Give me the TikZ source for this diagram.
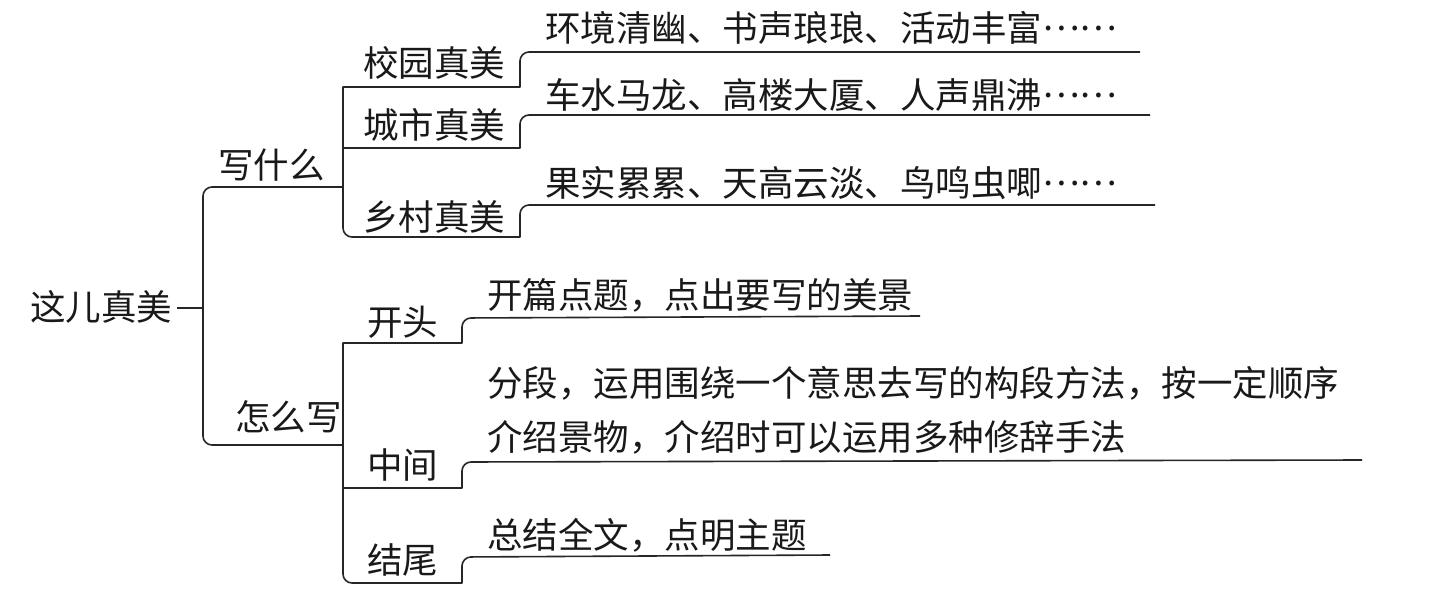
\documentclass[tikz,border=0pt]{standalone}
\usepackage{fontspec}
\newfontfamily\cjk{Noto Sans CJK SC}
\newcommand{\dotsmid}{\raisebox{0.3em}{……}}
\begin{document}
\begin{tikzpicture}[x=1pt,y=-1pt,
  lbl/.style={font=\cjk\fontsize{35.5}{54}\selectfont, inner sep=0pt, anchor=west, text=black!90, align=left},
  conn/.style={line width=1.6pt, draw=black!85, line join=round}]
\useasboundingbox[fill=white] (0,0) rectangle (1432,600);
% nodes
\node[lbl] (root) at (30,307) {这儿真美};
\node[lbl] (w1) at (218,165) {写什么};
\node[lbl] (w2) at (235,417) {怎么写};
\node[lbl] (a1) at (363,63) {校园真美};
\node[lbl] (a2) at (363,125) {城市真美};
\node[lbl] (a3) at (363,217) {乡村真美};
\node[lbl] (b1) at (367,322) {开头};
\node[lbl] (b2) at (367,465) {中间};
\node[lbl] (b3) at (367,560) {结尾};
\node[lbl] (t1) at (545,28) {环境清幽、书声琅琅、活动丰富\dotsmid};
\node[lbl] (t2) at (545,95) {车水马龙、高楼大厦、人声鼎沸\dotsmid};
\node[lbl] (t3) at (545,183) {果实累累、天高云淡、鸟鸣虫唧\dotsmid};
\node[lbl] (u1) at (487,295) {开篇点题，点出要写的美景};
\node[lbl] (u2) at (487,410) {分段，运用围绕一个意思去写的构段方法，按一定顺序\\介绍景物，介绍时可以运用多种修辞手法};
\node[lbl] (u3) at (487,535) {总结全文，点明主题};
% junction coordinates
\coordinate (T) at (203,308);
\coordinate (A) at (343,187);
\coordinate (B) at (343,445);
\coordinate (ta) at (1140,52);
\coordinate (tb) at (1150,115);
\coordinate (tc) at (1155,205);
\coordinate (ua) at (920,316);
\coordinate (ub) at (1362,460);
\coordinate (uc) at (830,555);
% connectors
\draw[conn] ([xshift=5pt]root.east |- T) -- (T);
\draw[conn, rounded corners=9pt] (A) -- (203,187) -- (203,445) -- (B);
% upper level
\draw[conn] (ta) [rounded corners=9pt] -- (520,52) [sharp corners] -- (520,87) -- (343,87)
  [rounded corners=9pt] -- (343,237) [sharp corners] -- (520,237) [rounded corners=9pt] -- (520,205) -- (tc);
\draw[conn] (tb) [rounded corners=9pt] -- (520,115) [sharp corners] -- (520,148) -- (343,148);
% lower level
\draw[conn] (ua) [rounded corners=9pt] -- (462,318) [sharp corners] -- (462,343) -- (343,343)
  [rounded corners=9pt] -- (343,583) [sharp corners] -- (462,583) [rounded corners=9pt] -- (462,557) -- (uc);
\draw[conn] (ub) [rounded corners=9pt] -- (462,462) [sharp corners] -- (462,488) -- (343,488);
\end{tikzpicture}
\end{document}
